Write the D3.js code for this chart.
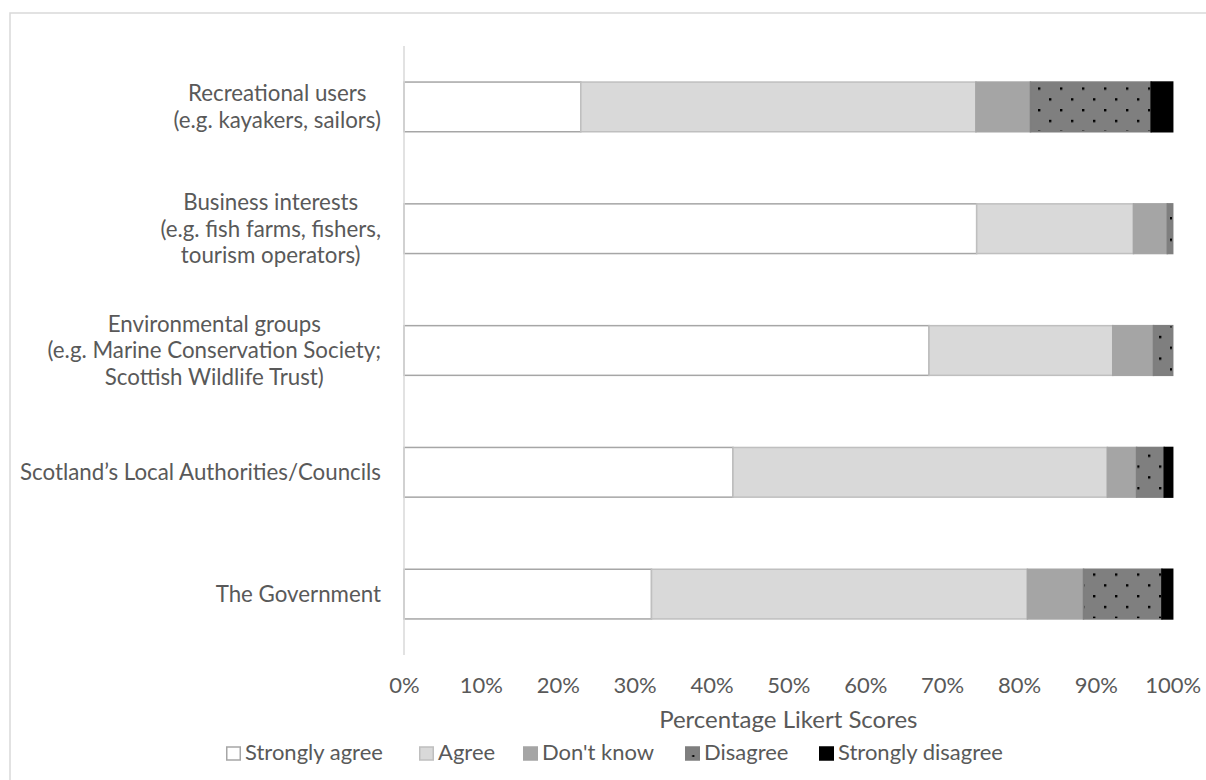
<!DOCTYPE html>
<html>
<head>
<meta charset="utf-8">
<script src="https://cdn.jsdelivr.net/npm/d3@7"></script>
<style>
  html, body { margin: 0; padding: 0; background: #fff; }
  svg { display: block; font-family: Lato, "Open Sans", sans-serif; }
</style>
</head>
<body>
<svg id="chart" width="1206" height="780"></svg>
<script>
// Stakeholder groups (each entry is one label split into its lines)
const categories = [
  ["Recreational users", "(e.g. kayakers, sailors)"],
  ["Business interests", "(e.g. fish farms, fishers,", "tourism operators)"],
  ["Environmental groups", "(e.g. Marine Conservation Society;", "Scottish Wildlife Trust)"],
  ["Scotland\u2019s Local Authorities/Councils"],
  ["The Government"]
];
const seriesNames = ["Strongly agree", "Agree", "Don't know", "Disagree", "Strongly disagree"];

// Percentage of responses per Likert level, one array per level (same order as categories)
const stronglyAgree    = [23.0, 74.5, 68.3, 42.8, 32.2];
const agree            = [51.4, 20.4, 23.9, 48.7, 48.9];
const dontKnow         = [7.1, 4.4, 5.3, 3.8, 7.3];
const disagree         = [15.7, 0.7, 2.5, 3.6, 10.2];
const stronglyDisagree = [2.8, 0.0, 0.0, 1.1, 1.4];

const xTicks = [0, 10, 20, 30, 40, 50, 60, 70, 80, 90, 100];
const xTitle = "Percentage Likert Scores";

const seriesValues = [stronglyAgree, agree, dontKnow, disagree, stronglyDisagree];
const rows = categories.map((c, i) => {
  const r = { key: i };
  seriesNames.forEach((s, j) => { r[s] = seriesValues[j][i]; });
  return r;
});

const fills   = ["#ffffff", "#d9d9d9", "#a5a5a5", "url(#dots)", "#000000"];
const strokes = ["#a6a6a6", "#bfbfbf", "#a5a5a5", "#7f7f7f", "#000000"];
const textColor = "#595959";

const svg = d3.select("#chart");

// dotted fill used by the "Disagree" level
const defs = svg.append("defs");
const pat = defs.append("pattern")
  .attr("id", "dots").attr("patternUnits", "userSpaceOnUse")
  .attr("width", 22).attr("height", 21.6).attr("x", 4).attr("y", 1);
pat.append("rect").attr("width", 22).attr("height", 21.6).attr("fill", "#7f7f7f");
pat.append("rect").attr("x", 0).attr("y", 0).attr("width", 2.4).attr("height", 2.4).attr("fill", "#000");
pat.append("rect").attr("x", 11).attr("y", 10.8).attr("width", 2.4).attr("height", 2.4).attr("fill", "#000");

const legPat = defs.append("pattern")
  .attr("id", "dotsLegend").attr("patternUnits", "objectBoundingBox")
  .attr("width", 1).attr("height", 1);
legPat.append("rect").attr("width", 15).attr("height", 14).attr("fill", "#7f7f7f");
legPat.append("rect").attr("x", 6.5).attr("y", 8).attr("width", 2).attr("height", 2).attr("fill", "#000");

// chart area frame
svg.append("rect")
  .attr("x", 10).attr("y", 13).attr("width", 1210).attr("height", 800)
  .attr("fill", "none").attr("stroke", "#d9d9d9").attr("stroke-width", 1.5);

const plot = { left: 404, right: 1172.7, top: 46, bottom: 655 };

const x = d3.scaleLinear().domain([0, 100]).range([plot.left, plot.right]);
const y = d3.scaleBand()
  .domain(rows.map(r => r.key))
  .range([plot.top, plot.bottom])
  .paddingInner(0.592).paddingOuter(0.296);

const stack = d3.stack().keys(seriesNames);
const stacked = stack(rows);

// bars
const g = svg.append("g");
stacked.forEach((layer, j) => {
  g.append("g").selectAll("rect")
    .data(layer.filter(d => d[1] - d[0] > 0))
    .join("rect")
    .attr("x", d => x(d[0]))
    .attr("y", d => y(d.data.key))
    .attr("width", d => x(d[1]) - x(d[0]))
    .attr("height", y.bandwidth())
    .attr("fill", fills[j])
    .attr("stroke", strokes[j])
    .attr("stroke-width", 1.5);
});

// vertical category axis line
svg.append("line")
  .attr("x1", plot.left).attr("x2", plot.left)
  .attr("y1", plot.top).attr("y2", plot.bottom)
  .attr("stroke", "#d9d9d9").attr("stroke-width", 1.5);

// x axis tick labels
const xAxis = d3.axisBottom(x).tickValues(xTicks).tickFormat(d => d + "%").tickSize(0).tickPadding(0);
const xg = svg.append("g").attr("transform", `translate(0,${plot.bottom})`).call(xAxis);
xg.select(".domain").remove();
xg.selectAll("text")
  .attr("dy", null).attr("y", 38)
  .attr("fill", textColor).style("font-size", "22px").style("font-family", "Lato, sans-serif");

// x axis title
svg.append("text")
  .attr("x", (plot.left + plot.right) / 2).attr("y", 728)
  .attr("text-anchor", "middle").attr("fill", textColor)
  .style("font-size", "24px").text(xTitle);

// category labels: each block right-aligned to the axis, lines centred within the block
const lineH = 26.5;
categories.forEach((lines, i) => {
  const t = svg.append("text")
    .attr("fill", textColor).attr("text-anchor", "middle")
    .style("font-size", "22.3px");
  const cy = y(i) + y.bandwidth() / 2;
  const first = cy - (lines.length - 1) * lineH / 2;
  const spans = lines.map((ln, k) =>
    t.append("tspan").attr("y", first + k * lineH).attr("dy", "0.35em").text(ln));
  const w = d3.max(spans, s => s.node().getComputedTextLength());
  spans.forEach(s => s.attr("x", 381 - w / 2));
});

// legend
const legend = svg.append("g").attr("transform", "translate(0,760)");
const legX = [226, 419, 523, 685, 819];
seriesNames.forEach((s, j) => {
  const it = legend.append("g").attr("transform", `translate(${legX[j]},0)`);
  it.append("rect")
    .attr("x", 0.75).attr("y", -13).attr("width", 13.5).attr("height", 13)
    .attr("fill", j === 3 ? "url(#dotsLegend)" : fills[j])
    .attr("stroke", strokes[j]).attr("stroke-width", 1.5);
  it.append("text")
    .attr("x", 19).attr("y", 0)
    .attr("fill", textColor).style("font-size", "22px")
    .text(s);
});
</script>
</body>
</html>
